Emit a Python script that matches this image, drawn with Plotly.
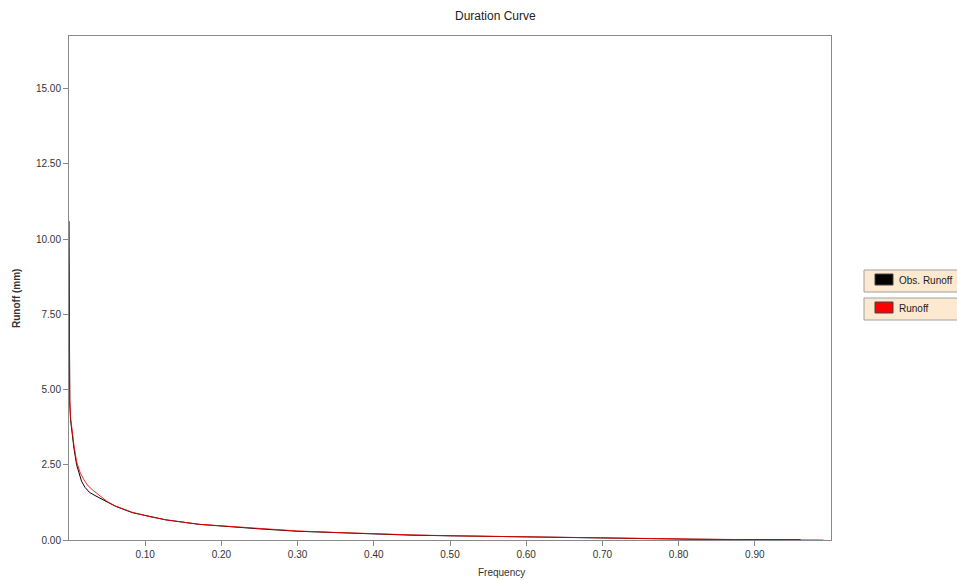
import plotly.graph_objects as go

# Observed runoff duration curve (frequency of exceedance, runoff mm)
obs_freq = [0.0, 0.0002, 0.0005, 0.001, 0.002, 0.004, 0.0065, 0.010, 0.0135, 0.0165,
            0.021, 0.027, 0.034, 0.041, 0.050, 0.061, 0.083, 0.105, 0.127, 0.171,
            0.214, 0.25, 0.30, 0.35, 0.40, 0.45, 0.50, 0.55, 0.60, 0.65,
            0.70, 0.75, 0.80, 0.82, 0.88, 0.96]
obs_runoff = [10.6, 6.0, 5.3, 4.6, 4.0, 3.5, 3.05, 2.5, 2.15, 1.95,
              1.75, 1.58, 1.48, 1.38, 1.25, 1.12, 0.91, 0.78, 0.67, 0.52,
              0.43, 0.37, 0.29, 0.24, 0.20, 0.16, 0.14, 0.12, 0.10, 0.08,
              0.06, 0.05, 0.03, 0.025, 0.015, 0.01]

# Simulated runoff duration curve
sim_freq = [0.0, 0.0003, 0.001, 0.002, 0.004, 0.0065, 0.010, 0.0145, 0.0195, 0.025,
            0.032, 0.043, 0.050, 0.061, 0.083, 0.105, 0.127, 0.171, 0.214, 0.25,
            0.30, 0.35, 0.40, 0.45, 0.50, 0.55, 0.60, 0.65, 0.70, 0.75,
            0.80, 0.85, 0.90, 0.96, 0.99]
sim_runoff = [8.8, 5.6, 4.7, 4.1, 3.6, 3.15, 2.6, 2.25, 2.0, 1.80,
              1.64, 1.42, 1.28, 1.13, 0.92, 0.78, 0.67, 0.52, 0.44, 0.38,
              0.30, 0.25, 0.20, 0.17, 0.14, 0.12, 0.10, 0.08, 0.06, 0.05,
              0.035, 0.02, 0.012, 0.005, 0.0]

series_names = ["Obs. Runoff", "Runoff"]
series_colors = ["#000000", "#ff0000"]
x_ticks = [0.1, 0.2, 0.3, 0.4, 0.5, 0.6, 0.7, 0.8, 0.9]
y_ticks = [0.0, 2.5, 5.0, 7.5, 10.0, 12.5, 15.0]

FONT = "Liberation Sans, Arial, sans-serif"
AX = "#8a8a8a"
W, H = 957, 580
L, R, T, B = 69, 126, 36, 40
PW, PH = W - L - R, H - T - B


def px(x):
    return (x - L) / PW


def py(y):
    return (H - B - y) / PH


fig = go.Figure()
fig.add_trace(go.Scatter(x=obs_freq, y=obs_runoff, mode="lines", name=series_names[0],
                         line=dict(color=series_colors[0], width=1), showlegend=False))
fig.add_trace(go.Scatter(x=sim_freq, y=sim_runoff, mode="lines", name=series_names[1],
                         line=dict(color=series_colors[1], width=1), opacity=0.85,
                         showlegend=False))

shapes = []
annotations = []
for i, (name, col) in enumerate(zip(series_names, series_colors)):
    top = 270 + i * 28
    shapes.append(dict(type="rect", xref="paper", yref="paper",
                       x0=px(864), x1=px(962), y0=py(top), y1=py(top + 22),
                       fillcolor="#fde9d0", line=dict(color="#a0a0a0", width=1),
                       layer="above"))
    shapes.append(dict(type="rect", xref="paper", yref="paper",
                       x0=px(875), x1=px(893), y0=py(top + 4), y1=py(top + 15),
                       fillcolor=col, line=dict(color="#444", width=1),
                       layer="above"))
    annotations.append(dict(text=name, xref="paper", yref="paper",
                            x=px(897), y=py(top + 10), xanchor="left", yanchor="middle",
                            showarrow=False,
                            font=dict(family=FONT, size=10, color="#222")))

annotations += [
    dict(text="Duration Curve", xref="paper", yref="paper",
         x=px(495), y=py(16), xanchor="center", yanchor="middle",
         showarrow=False, font=dict(family=FONT, size=12, color="#222")),
    dict(text="Frequency", xref="paper", yref="paper",
         x=px(501), y=py(572), xanchor="center", yanchor="middle",
         showarrow=False, font=dict(family=FONT, size=10, color="#333")),
    dict(text="<b>Runoff (mm)</b>", xref="paper", yref="paper",
         x=px(17), y=py(299), xanchor="center", yanchor="middle",
         textangle=-90, showarrow=False,
         font=dict(family=FONT, size=10, color="#333")),
]

fig.update_layout(
    width=W, height=H,
    margin=dict(l=L, r=R, t=T, b=B),
    paper_bgcolor="white", plot_bgcolor="white",
    font=dict(family=FONT, size=10, color="#333"),
    showlegend=False,
    xaxis=dict(range=[0, 1], tickvals=x_ticks, tickformat=".2f",
               showgrid=False, zeroline=False, showline=True, linecolor=AX,
               linewidth=1, mirror=True, ticks="outside", ticklen=5,
               tickcolor=AX, tickfont=dict(size=10, color="#333")),
    yaxis=dict(range=[0, 16.75], tickvals=y_ticks, tickformat=".2f",
               showgrid=False, zeroline=False, showline=True, linecolor=AX,
               linewidth=1, mirror=True, ticks="outside", ticklen=5,
               tickcolor=AX, tickfont=dict(size=10, color="#333")),
    shapes=shapes,
    annotations=annotations,
)

fig.write_html("out.html")
